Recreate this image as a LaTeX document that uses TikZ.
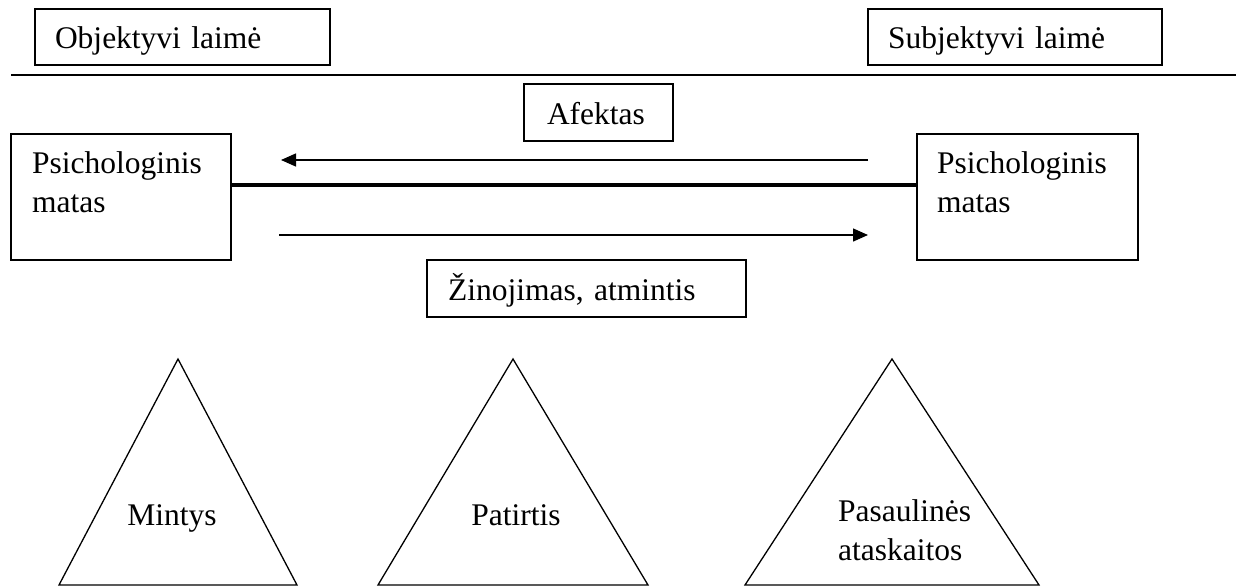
\documentclass[tikz,border=0pt]{standalone}
\usepackage{fontspec}
\setmainfont{Liberation Serif}
\usetikzlibrary{arrows.meta}
\begin{document}
\begin{tikzpicture}[x=1pt,y=-1pt,
  txt/.style={font=\fontsize{31.5}{38.5}\selectfont, inner sep=0pt, align=left},
  boxst/.style={draw, line width=1.4pt, font=\fontsize{31.5}{38.5}\selectfont,
    inner ysep=0pt, align=left, text height=24pt, text depth=1pt},
  bigbox/.style={draw, line width=1.4pt, minimum width=220pt, minimum height=126pt, inner sep=0pt},
  thinln/.style={line width=1.4pt},
  thickln/.style={line width=3.4pt},
  arr/.style={line width=1.4pt, -{Triangle[length=15pt,width=13pt]}},
  tri/.style={line width=1.3pt, line join=miter}]
\useasboundingbox (0,0) rectangle (1243,587);

% top boxes
\node[boxst, inner xsep=20pt, text width=255pt, minimum height=56pt] (obj) at (182.5,37) {Objektyvi laimė};
\node[boxst, inner xsep=20pt, text width=254pt, minimum height=56pt] (subj) at (1015,37) {Subjektyvi laimė};

% separator line
\coordinate (sepL) at (11,75);
\coordinate (sepR) at (1236,75);
\draw[thinln] (sepL) -- (sepR);

% middle boxes
\node[boxst, inner xsep=23pt, text width=103pt, minimum height=57pt] (afek) at (598.5,112.5) {Afektas};
\node[bigbox] (lbox) at (121,197) {};
\node[bigbox, minimum width=221pt] (rbox) at (1027.5,197) {};
\node[txt, anchor=base west] (ltxt) at (32,212) {Psichologinis\\matas};
\node[txt, anchor=base west] (rtxt) at (937,212) {Psichologinis\\matas};
\node[boxst, inner xsep=21pt, text width=277pt, minimum height=57pt] (zin) at (586.5,288.5) {Žinojimas, atmintis};

% connectors
\draw[thickln] ([yshift=12pt]lbox.east) -- ([yshift=12pt]rbox.west);
\coordinate (a1s) at (868,160);
\coordinate (a1e) at (281,160);
\coordinate (a2s) at (279,235);
\coordinate (a2e) at (868,235);
\draw[arr] (a1s) -- (a1e);
\draw[arr] (a2s) -- (a2e);

% triangles
\draw[tri] (178,359) -- (297,585) -- (59,585) -- cycle;
\draw[tri] (513,359) -- (648,585) -- (378,585) -- cycle;
\draw[tri] (892,359) -- (1039,585) -- (745,585) -- cycle;
\node[txt, anchor=base] (mint) at (172,525) {Mintys};
\node[txt, anchor=base] (pat) at (516,525) {Patirtis};
\node[txt, anchor=base west] (pas) at (838,560) {Pasaulinės\\ataskaitos};
\end{tikzpicture}
\end{document}
